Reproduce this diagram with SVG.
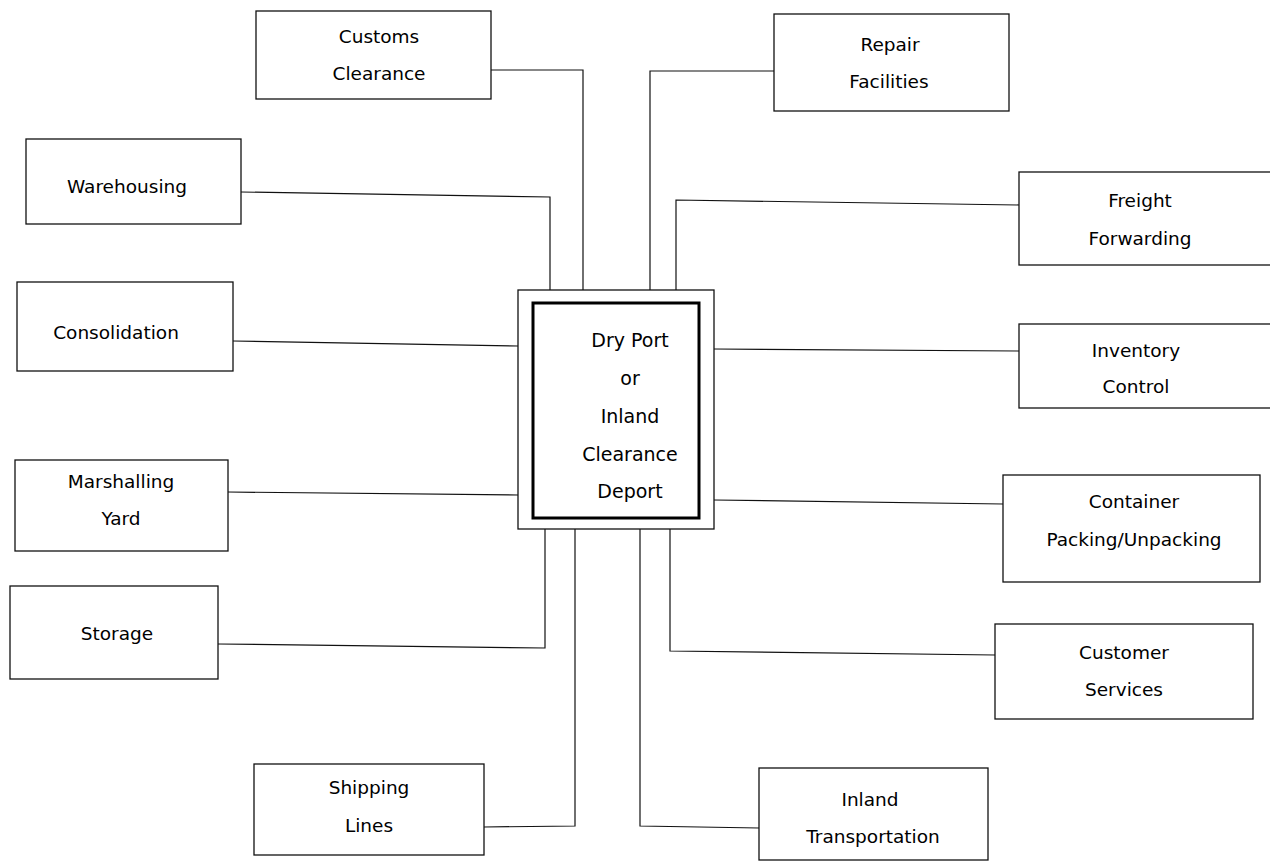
<svg xmlns="http://www.w3.org/2000/svg" width="1270" height="863" viewBox="0 0 1270 863">
  <style>
    .box { fill: #ffffff; stroke: #111111; stroke-width: 1.3; }
    .hub-outer { fill: #ffffff; stroke: #111111; stroke-width: 1.3; }
    .hub-inner { fill: #ffffff; stroke: #000000; stroke-width: 3; }
    .wire { fill: none; stroke: #111111; stroke-width: 1.2; }
    text { font-family: "DejaVu Sans", "Liberation Sans", sans-serif; font-size: 18.5px; fill: #000000; text-anchor: middle; }
    .hub-label { font-size: 19px; }
  </style>
  <rect x="0" y="0" width="1270" height="863" fill="#ffffff"/>

  <!-- connectors from the outer boxes to the central depot -->
  <g id="connectors">
    <polyline class="wire" points="491,70 583,70 583,290"/>
    <polyline class="wire" points="774,71 650,71 650,290"/>
    <polyline class="wire" points="241,192 550,197 550,290"/>
    <polyline class="wire" points="1019,205 676,200 676,290"/>
    <polyline class="wire" points="233,341 518,346"/>
    <polyline class="wire" points="714,349 1019,351"/>
    <polyline class="wire" points="228,492 518,495"/>
    <polyline class="wire" points="714,500 1003,504"/>
    <polyline class="wire" points="218,644 545,648 545,529"/>
    <polyline class="wire" points="995,655 670,651 670,529"/>
    <polyline class="wire" points="484,827 575,826 575,529"/>
    <polyline class="wire" points="759,828 640,826 640,529"/>
  </g>

  <!-- central hub -->
  <g id="dry-port">
    <rect class="hub-outer" x="518" y="290" width="196" height="239"/>
    <rect class="hub-inner" x="533" y="303" width="166" height="215"/>
    <text class="hub-label" x="630" y="347">Dry Port</text>
    <text class="hub-label" x="630" y="385">or</text>
    <text class="hub-label" x="630" y="423">Inland</text>
    <text class="hub-label" x="630" y="461">Clearance</text>
    <text class="hub-label" x="630" y="498">Deport</text>
  </g>

  <g id="customs-clearance">
    <rect class="box" x="256" y="11" width="235" height="88"/>
    <text x="379" y="43">Customs</text>
    <text x="379" y="80">Clearance</text>
  </g>

  <g id="repair-facilities">
    <rect class="box" x="774" y="14" width="235" height="97"/>
    <text x="890" y="51">Repair</text>
    <text x="889" y="88">Facilities</text>
  </g>

  <g id="warehousing">
    <rect class="box" x="26" y="139" width="215" height="85"/>
    <text x="127" y="193">Warehousing</text>
  </g>

  <g id="freight-forwarding">
    <rect class="box" x="1019" y="172" width="260" height="93"/>
    <text x="1140" y="207">Freight</text>
    <text x="1140" y="245">Forwarding</text>
  </g>

  <g id="consolidation">
    <rect class="box" x="17" y="282" width="216" height="89"/>
    <text x="116" y="339">Consolidation</text>
  </g>

  <g id="inventory-control">
    <rect class="box" x="1019" y="324" width="260" height="84"/>
    <text x="1136" y="357">Inventory</text>
    <text x="1136" y="393">Control</text>
  </g>

  <g id="marshalling-yard">
    <rect class="box" x="15" y="460" width="213" height="91"/>
    <text x="121" y="488">Marshalling</text>
    <text x="121" y="525">Yard</text>
  </g>

  <g id="container-packing">
    <rect class="box" x="1003" y="475" width="257" height="107"/>
    <text x="1134" y="508">Container</text>
    <text x="1134" y="546">Packing/Unpacking</text>
  </g>

  <g id="storage">
    <rect class="box" x="10" y="586" width="208" height="93"/>
    <text x="117" y="640">Storage</text>
  </g>

  <g id="customer-services">
    <rect class="box" x="995" y="624" width="258" height="95"/>
    <text x="1124" y="659">Customer</text>
    <text x="1124" y="696">Services</text>
  </g>

  <g id="shipping-lines">
    <rect class="box" x="254" y="764" width="230" height="91"/>
    <text x="369" y="794">Shipping</text>
    <text x="369" y="832">Lines</text>
  </g>

  <g id="inland-transportation">
    <rect class="box" x="759" y="768" width="229" height="92"/>
    <text x="870" y="806">Inland</text>
    <text x="873" y="843">Transportation</text>
  </g>
</svg>
